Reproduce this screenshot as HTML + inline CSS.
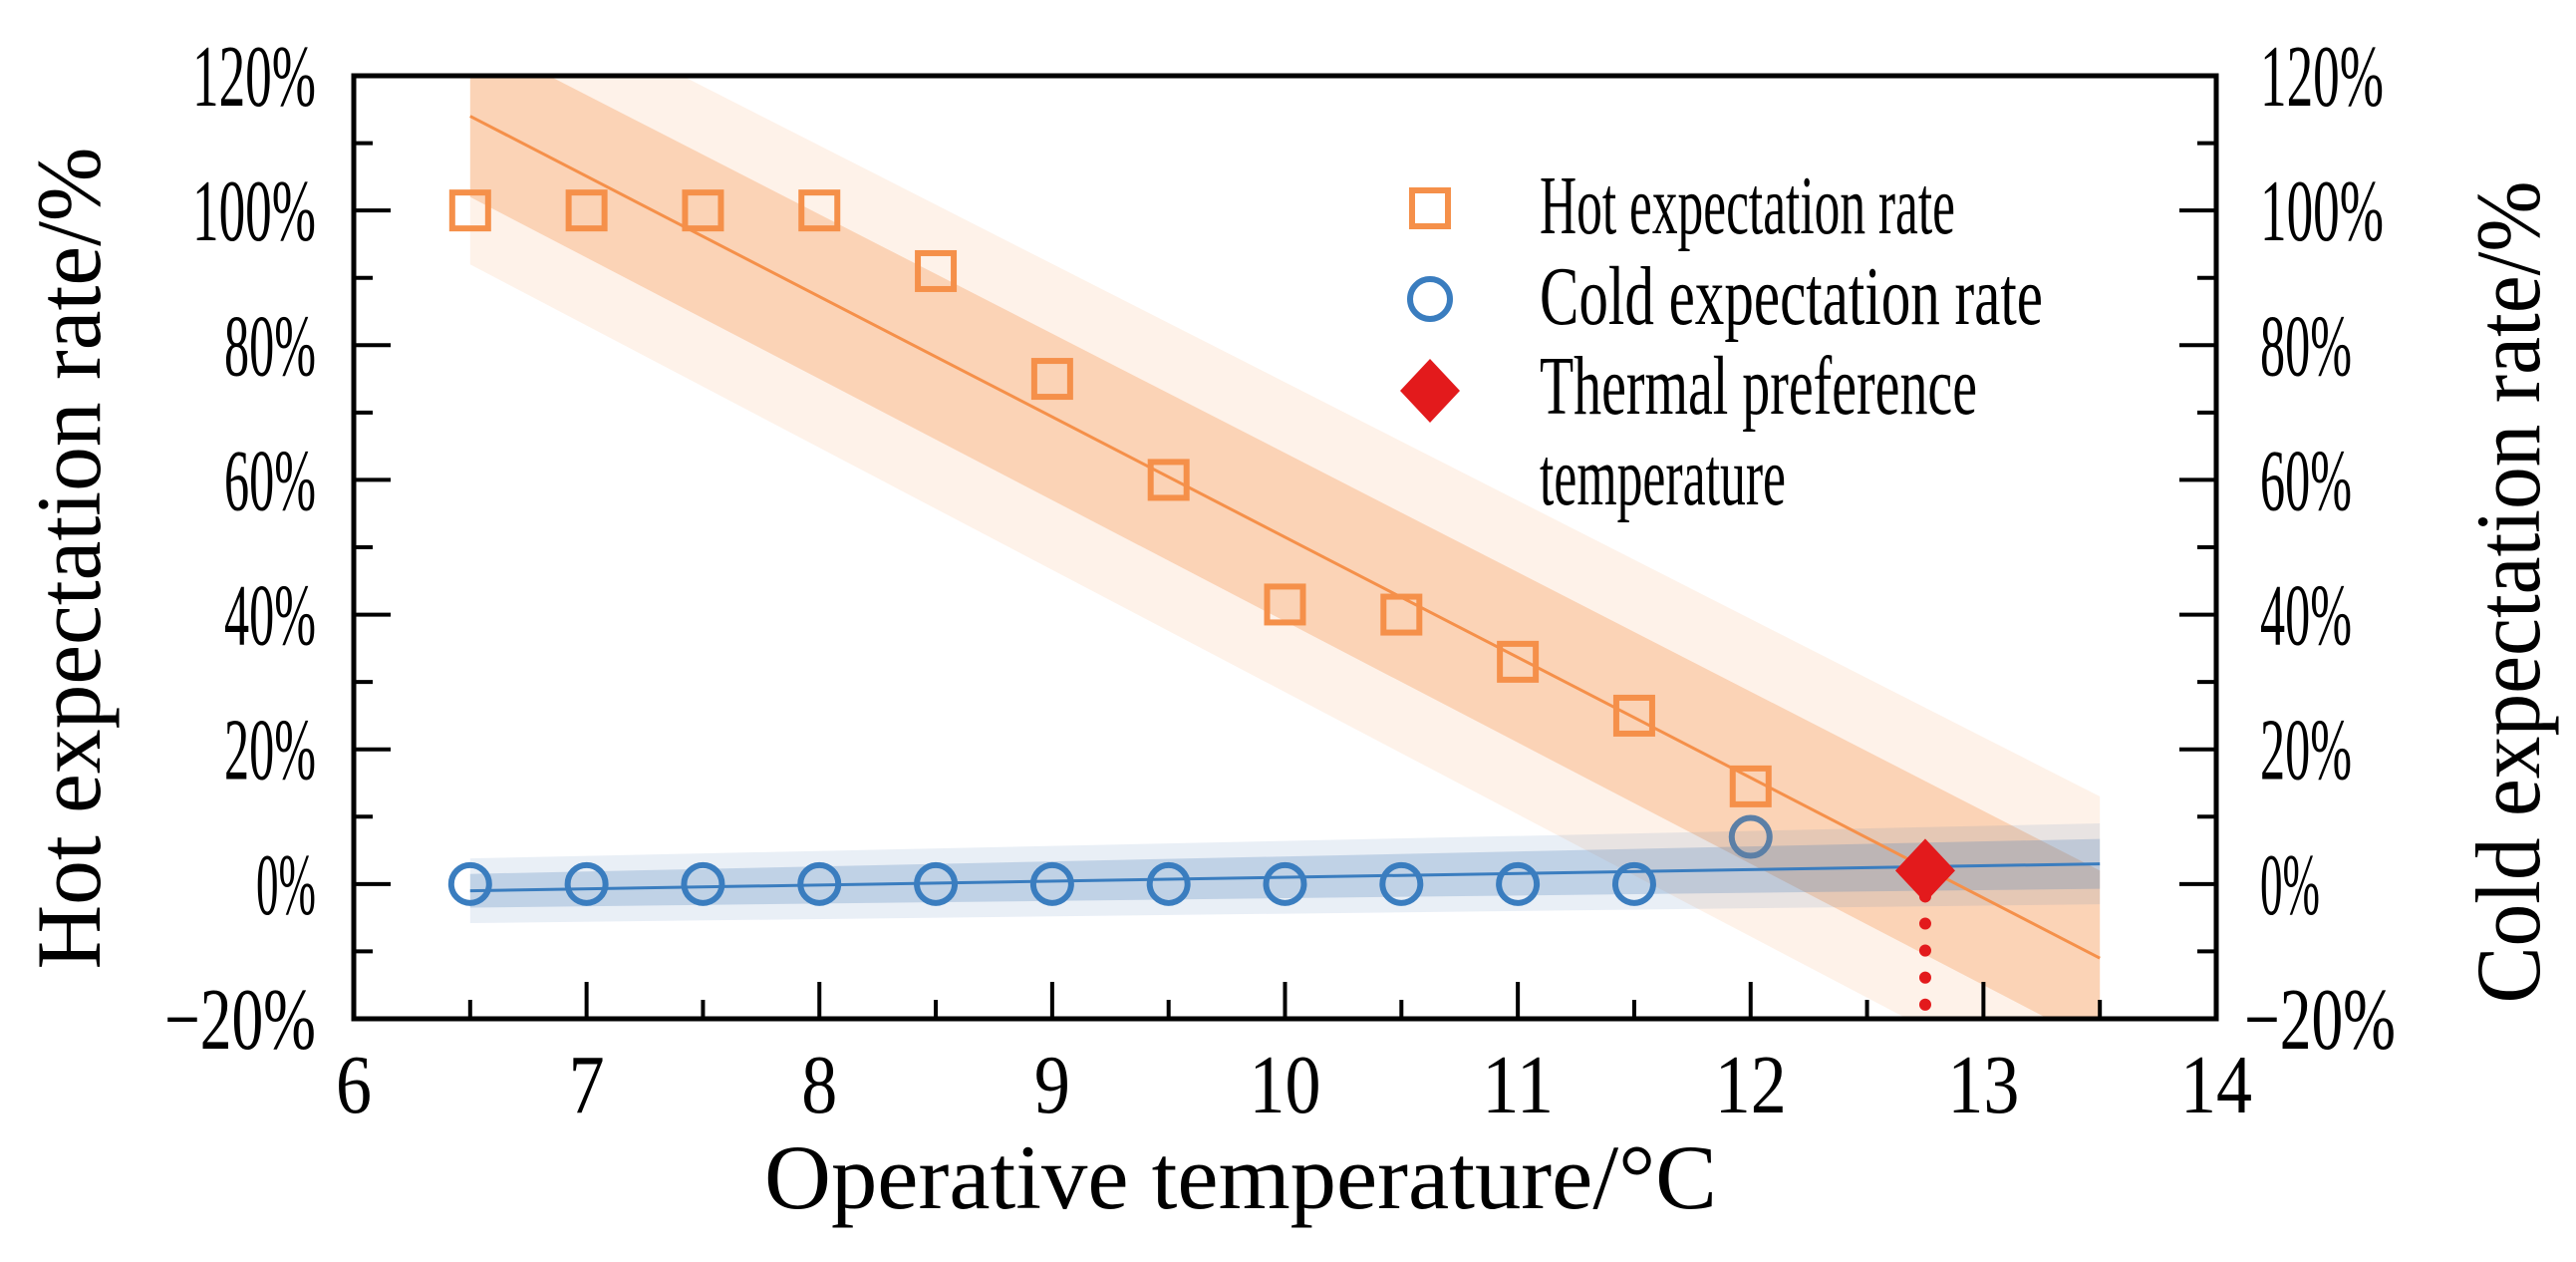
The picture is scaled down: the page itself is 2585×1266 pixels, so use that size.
<!DOCTYPE html>
<html><head><meta charset="utf-8"><style>
html,body{margin:0;padding:0;background:#fff;}
svg text{font-family:"Liberation Serif","Times New Roman",serif;fill:#000;}
</style></head><body>
<svg id="chart" width="2585" height="1261" viewBox="0 0 2585 1261" xmlns="http://www.w3.org/2000/svg">
<defs><clipPath id="plotclip"><rect x="355" y="76" width="1869" height="946"/></clipPath></defs>
<g id="bands" clip-path="url(#plotclip)"></g>
<g id="marks"></g>
<g id="axes"></g>
<g id="legend">
  <rect x="1417" y="191" width="36" height="36" fill="none" stroke="#f5904a" stroke-width="6"/>
  <text x="1545" y="234" font-size="84" textLength="417" lengthAdjust="spacingAndGlyphs">Hot expectation rate</text>
  <circle cx="1435" cy="300" r="20" fill="none" stroke="#3a7dbf" stroke-width="6"/>
  <text x="1545" y="325" font-size="84" textLength="505" lengthAdjust="spacingAndGlyphs">Cold expectation rate</text>
  <polygon points="1435,360 1465,392 1435,424 1405,392" fill="#e31a1c"/>
  <text x="1545" y="415" font-size="84" textLength="439" lengthAdjust="spacingAndGlyphs">Thermal preference</text>
  <text x="1545" y="506" font-size="84" textLength="247" lengthAdjust="spacingAndGlyphs">temperature</text>
</g>
<text x="1245" y="1212" font-size="92" text-anchor="middle" textLength="956" lengthAdjust="spacingAndGlyphs">Operative temperature/°C</text>
<text transform="translate(100,560) rotate(-90)" font-size="92" text-anchor="middle" textLength="825" lengthAdjust="spacingAndGlyphs">Hot expectation rate/%</text>
<text transform="translate(2548,594) rotate(-90)" font-size="92" text-anchor="middle" textLength="825" lengthAdjust="spacingAndGlyphs">Cold expectation rate/%</text>
</svg>
<script>
const temps = [6.5,7,7.5,8,8.5,9,9.5,10,10.5,11,11.5,12];
const hotRate = [100,100,100,100,91,75,60,41.5,40,33,25,14.5];
const coldRate = [0,0,0,0,0,0,0,0,0,0,0,7];
const fitX = [6.5,13.5];
const hotFit = [114,-11];
const hotCI = [12,13];
const hotPI = [22,24];
const coldFit = [-1,3];
const coldCI = [2.5,3.7];
const coldPI = [4.8,6];
const prefTemp = 12.75;
const prefRate = 2;
const xTicks = [6,7,8,9,10,11,12,13,14];
const yTicks = [-20,0,20,40,60,80,100,120];
const yTickLabels = ['\u221220%','0%','20%','40%','60%','80%','100%','120%'];

const NS='http://www.w3.org/2000/svg';
const L=355,R=2224,T=76,B=1022;
const xs=v=>L+(v-6)/8*(R-L);
const ys=v=>B-(v+20)/140*(B-T);
function mk(tag,parent){const e=document.createElementNS(NS,tag);parent.appendChild(e);return e;}
const bands=document.getElementById('bands'),marks=document.getElementById('marks'),axes=document.getElementById('axes');

function band(fit,hw,fill,name){
  const p=mk('polygon',bands);
  const pts=[[xs(fitX[0]),ys(fit[0]+hw[0])],[xs(fitX[1]),ys(fit[1]+hw[1])],[xs(fitX[1]),ys(fit[1]-hw[1])],[xs(fitX[0]),ys(fit[0]-hw[0])]];
  p.setAttribute('points',pts.map(q=>q.join(',')).join(' '));
  p.setAttribute('fill',fill);
  
  
}
band(hotFit,hotPI,'rgba(248,160,100,0.14)','hot-prediction-band');
band(hotFit,hotCI,'rgba(248,160,100,0.38)','hot-confidence-band');
band(coldFit,coldPI,'rgba(70,125,185,0.12)','cold-prediction-band');
band(coldFit,coldCI,'rgba(70,125,185,0.25)','cold-confidence-band');
function fitLine(fit,col,name){
  const l=mk('line',bands);
  l.setAttribute('x1',xs(fitX[0]));l.setAttribute('y1',ys(fit[0]));
  l.setAttribute('x2',xs(fitX[1]));l.setAttribute('y2',ys(fit[1]));
  l.setAttribute('stroke',col);l.setAttribute('stroke-width','3');
  
  
}
fitLine(hotFit,'#f5904a','hot-fit-line');
fitLine(coldFit,'#3a7dbf','cold-fit-line');

temps.forEach((t,i)=>{
  const c=mk('circle',marks);
  c.setAttribute('cx',xs(t));c.setAttribute('cy',ys(coldRate[i]));c.setAttribute('r',19);
  c.setAttribute('fill','none');c.setAttribute('stroke',i===temps.length-1?'#5b7fa6':'#3a7dbf');c.setAttribute('stroke-width','6');
  
  
});
temps.forEach((t,i)=>{
  const r=mk('rect',marks);
  r.setAttribute('x',xs(t)-18);r.setAttribute('y',ys(hotRate[i])-18);r.setAttribute('width',36);r.setAttribute('height',36);
  r.setAttribute('fill','none');r.setAttribute('stroke','#f5904a');r.setAttribute('stroke-width','6');
  
  
});
const dl=mk('line',marks);
dl.setAttribute('x1',xs(prefTemp));dl.setAttribute('x2',xs(prefTemp));
dl.setAttribute('y1',ys(prefRate)+26);dl.setAttribute('y2',B);
dl.setAttribute('stroke','#e31a1c');dl.setAttribute('stroke-width','12');dl.setAttribute('stroke-linecap','round');dl.setAttribute('stroke-dasharray','0.1 27');


const dm=mk('polygon',marks);
const px=xs(prefTemp),py=ys(prefRate);
dm.setAttribute('points',`${px},${py-32} ${px+30},${py} ${px},${py+32} ${px-30},${py}`);
dm.setAttribute('fill','#e31a1c');



const fr=mk('rect',axes);
fr.setAttribute('x',L);fr.setAttribute('y',T);fr.setAttribute('width',R-L);fr.setAttribute('height',B-T);
fr.setAttribute('fill','none');fr.setAttribute('stroke','#000');fr.setAttribute('stroke-width','5');


function tick(x1,y1,x2,y2){const t=mk('line',axes);t.setAttribute('x1',x1);t.setAttribute('y1',y1);t.setAttribute('x2',x2);t.setAttribute('y2',y2);t.setAttribute('stroke','#000');t.setAttribute('stroke-width','4');

}
for(let v=6;v<=14.001;v+=0.5){const major=Math.abs(v-Math.round(v))<1e-6;tick(xs(v),B,xs(v),B-(major?37:19));}
for(let v=-20;v<=120;v+=10){const major=v%20===0;const len=major?37:19;tick(L,ys(v),L+len,ys(v));tick(R,ys(v),R-len,ys(v));}
xTicks.forEach(v=>{
  const t=mk('text',axes);t.textContent=String(v);
  t.setAttribute('x',xs(v));t.setAttribute('y',1116);t.setAttribute('font-size','84');t.setAttribute('text-anchor','middle');
  t.setAttribute('textLength',String(v).length*36);t.setAttribute('lengthAdjust','spacingAndGlyphs');
  
  
});
yTicks.forEach((v,i)=>{
  const s=yTickLabels[i];
  const w=s.length===4?(v<0?152:124):(s.length===3?92:60);
  const a=mk('text',axes);a.textContent=s;
  a.setAttribute('x',317);a.setAttribute('y',ys(v)+30);a.setAttribute('font-size','88');a.setAttribute('text-anchor','end');
  a.setAttribute('textLength',w);a.setAttribute('lengthAdjust','spacingAndGlyphs');
  
  
  const b=mk('text',axes);b.textContent=s;
  b.setAttribute('x',v<0?2252:2268);b.setAttribute('y',ys(v)+30);b.setAttribute('font-size','88');
  b.setAttribute('textLength',w);b.setAttribute('lengthAdjust','spacingAndGlyphs');
  
  
});
</script>
</body></html>
